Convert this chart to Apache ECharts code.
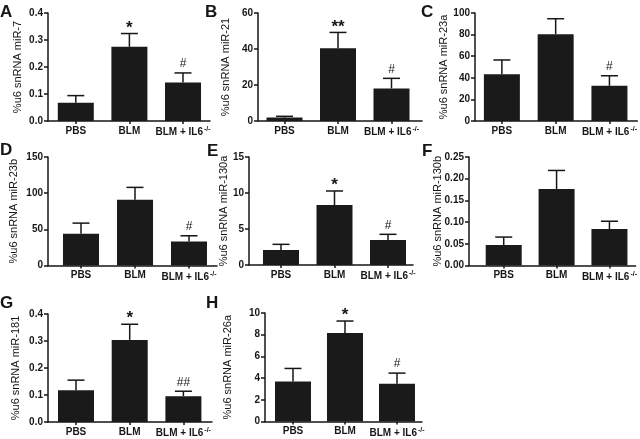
<!DOCTYPE html>
<html>
<head>
<meta charset="utf-8">
<script src="https://cdn.jsdelivr.net/npm/echarts@6/dist/echarts.min.js"></script>
<style>
html,body{margin:0;padding:0;background:#fff;}
#chart{width:640px;height:439px;}
</style>
</head>
<body>
<div id="chart"></div>
<script>
// ---------- DATA ----------
const categories = ['PBS', 'BLM', 'BLM + IL6'];
const supText = '-/-';

const nameA = '%u6 snRNA miR-7';
const meanA = [0.068, 0.275, 0.143];
const errA  = [0.094, 0.324, 0.178];
const marksA = ['', '*', '#'];
const ticksA = ['0.0', '0.1', '0.2', '0.3', '0.4'];

const nameB = '%u6 snRNA miR-21';
const meanB = [1.9, 40.4, 18.1];
const errB  = [2.6, 49.2, 23.7];
const marksB = ['', '**', '#'];
const ticksB = ['0', '20', '40', '60'];

const nameC = '%u6 snRNA miR-23a';
const meanC = [43.2, 80.4, 32.6];
const errC  = [56.5, 94.7, 41.9];
const marksC = ['', '', '#'];
const ticksC = ['0', '20', '40', '60', '80', '100'];

const nameD = '%u6 snRNA miR-23b';
const meanD = [43.9, 90.9, 33.2];
const errD  = [58.6, 108, 41.1];
const marksD = ['', '', '#'];
const ticksD = ['0', '50', '100', '150'];

const nameE = '%u6 snRNA miR-130a';
const meanE = [2.08, 8.33, 3.47];
const errE  = [2.87, 10.28, 4.26];
const marksE = ['', '*', '#'];
const ticksE = ['0', '5', '10', '15'];

const nameF = '%u6 snRNA miR-130b';
const meanF = [0.047, 0.176, 0.084];
const errF  = [0.0655, 0.219, 0.102];
const marksF = ['', '', ''];
const ticksF = ['0.00', '0.05', '0.10', '0.15', '0.20', '0.25'];

const nameG = '%u6 snRNA miR-181';
const meanG = [0.118, 0.304, 0.0955];
const errG  = [0.155, 0.362, 0.114];
const marksG = ['', '*', '##'];
const ticksG = ['0.0', '0.1', '0.2', '0.3', '0.4'];

const nameH = '%u6 snRNA miR-26a';
const meanH = [3.69, 8.15, 3.48];
const errH  = [4.89, 9.26, 4.46];
const marksH = ['', '*', '#'];
const ticksH = ['0', '2', '4', '6', '8', '10'];

const letters = ['A', 'B', 'C', 'D', 'E', 'F', 'G', 'H'];

// ---------- LAYOUT (positions only) ----------
const panels = [
  {name: nameA, mean: meanA, err: errA, marks: marksA, ticks: ticksA},
  {name: nameB, mean: meanB, err: errB, marks: marksB, ticks: ticksB},
  {name: nameC, mean: meanC, err: errC, marks: marksC, ticks: ticksC},
  {name: nameD, mean: meanD, err: errD, marks: marksD, ticks: ticksD},
  {name: nameE, mean: meanE, err: errE, marks: marksE, ticks: ticksE},
  {name: nameF, mean: meanF, err: errF, marks: marksF, ticks: ticksF},
  {name: nameG, mean: meanG, err: errG, marks: marksG, ticks: ticksG},
  {name: nameH, mean: meanH, err: errH, marks: marksH, ticks: ticksH}
];
const layout = [
  {left: 48,  right: 210, top: 13,  h: 108,   c0: 75.8, s: 53.6, gap: 25, lx: 0,   ly: 4},
  {left: 258, right: 422, top: 13,  h: 108,   c0: 284.5, s: 53.5, gap: 27, lx: 205, ly: 4},
  {left: 475, right: 638, top: 13,  h: 108,   c0: 502,  s: 54,   gap: 26, lx: 421, ly: 4},
  {left: 48,  right: 217, top: 157, h: 108.5, c0: 81,   s: 54,   gap: 29, lx: 0,   ly: 142},
  {left: 249, right: 413, top: 157, h: 108,   c0: 281,  s: 53.5, gap: 20, lx: 207, ly: 143},
  {left: 469, right: 637, top: 157, h: 108.5, c0: 504,  s: 53.3, gap: 26, lx: 422, ly: 143},
  {left: 48,  right: 212, top: 314, h: 108,   c0: 76,   s: 53.7, gap: 27, lx: 0,   ly: 295},
  {left: 265, right: 422, top: 313, h: 108.5, c0: 293,  s: 52,   gap: 32, lx: 206, ly: 295}
];

const FONT = 'Liberation Sans, Arial, Helvetica, sans-serif';
const INK = '#161616';

const grids = [], xAxes = [], yAxes = [], series = [], graphics = [];

panels.forEach((p, i) => {
  const L = layout[i];
  const width = L.right - L.left;
  const xmin = -(L.c0 - L.left) / L.s;
  const xmax = 2 + (L.right - (L.c0 + 2 * L.s)) / L.s;
  const tv = p.ticks.map(parseFloat);
  const ymin = tv[0], ymax = tv[tv.length - 1], yint = tv[1] - tv[0];

  grids.push({left: L.left, top: L.top, width: width, height: L.h, containLabel: false});

  xAxes.push({
    type: 'value', gridIndex: i, min: xmin, max: xmax,
    splitLine: {show: false},
    axisLine: {show: true, lineStyle: {color: INK, width: 1.5}},
    axisTick: {show: true, length: 3, customValues: [0, 1, 2], lineStyle: {color: INK, width: 1.5}},
    axisLabel: {
      show: true, customValues: [0, 1, 2], margin: 5,
      fontFamily: FONT, fontSize: 10, fontWeight: 'bold', color: INK,
      formatter: v => {
        const k = Math.round(v);
        return k === 2 ? categories[k] + '{sup|' + supText + '}' : categories[k];
      },
      rich: {
        sup: {fontFamily: FONT, fontSize: 7, color: INK, verticalAlign: 'top', padding: [0, 0, 6, 1]}
      }
    }
  });

  yAxes.push({
    type: 'value', gridIndex: i, min: ymin, max: ymax, interval: yint,
    name: p.name, nameLocation: 'middle', nameGap: L.gap, nameMoveOverlap: false,
    nameTextStyle: {fontFamily: FONT, fontSize: 11, color: INK},
    splitLine: {show: false},
    axisLine: {show: true, onZero: false, lineStyle: {color: INK, width: 1.5}},
    axisTick: {show: true, length: 4, lineStyle: {color: INK, width: 1.5}},
    axisLabel: {
      margin: 5, fontFamily: FONT, fontSize: 10, fontWeight: 'bold', color: INK,
      formatter: v => {
        const t = p.ticks.find(s => Math.abs(parseFloat(s) - v) < 1e-9);
        return t === undefined ? '' : t;
      }
    }
  });

  series.push({
    type: 'bar', xAxisIndex: i, yAxisIndex: i, barWidth: 36,
    itemStyle: {color: '#1a1a1a'},
    data: p.mean.map((m, k) => [k, m]),
    silent: true, animation: false
  });

  const marks = p.marks;
  series.push({
    type: 'custom', xAxisIndex: i, yAxisIndex: i, z: 5, animation: false, silent: true,
    data: p.mean.map((m, k) => [k, m, p.err[k]]),
    renderItem: (params, api) => {
      const k = api.value(0);
      const top = api.coord([k, api.value(1)]);
      const e = api.coord([k, api.value(2)]);
      const children = [
        {type: 'line', shape: {x1: top[0], y1: top[1], x2: e[0], y2: e[1]},
         style: {stroke: INK, lineWidth: 1.5}},
        {type: 'line', shape: {x1: e[0] - 8.5, y1: e[1], x2: e[0] + 8.5, y2: e[1]},
         style: {stroke: INK, lineWidth: 1.5}}
      ];
      const mk = marks[params.dataIndex];
      if (mk) {
        const isStar = mk.indexOf('*') >= 0;
        children.push({
          type: 'text',
          style: {
            text: mk, x: e[0], y: e[1] - (isStar ? 5.5 : 9),
            align: 'center', verticalAlign: 'middle',
            fontFamily: FONT, fontSize: isStar ? 17 : 12,
            fontWeight: isStar ? 'bold' : 'normal', fill: INK
          }
        });
      }
      return {type: 'group', children: children};
    }
  });

  graphics.push({
    type: 'text', left: L.lx, top: L.ly,
    style: {text: letters[i], fontFamily: FONT, fontSize: 17, fontWeight: 'bold', fill: INK}
  });
});

const chart = echarts.init(document.getElementById('chart'), null, {renderer: 'canvas'});
chart.setOption({
  backgroundColor: '#ffffff',
  animation: false,
  grid: grids,
  xAxis: xAxes,
  yAxis: yAxes,
  series: series,
  graphic: graphics
});
</script>
</body>
</html>
